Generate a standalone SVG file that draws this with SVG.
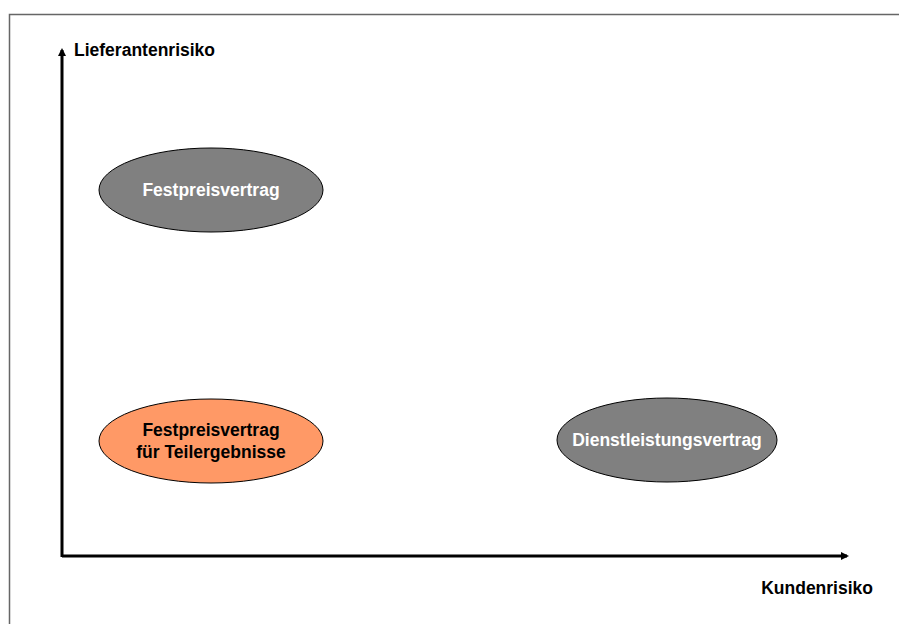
<svg xmlns="http://www.w3.org/2000/svg" width="899" height="624" viewBox="0 0 899 624">
<style>
text{font-family:"Liberation Sans",Arial,sans-serif;font-weight:bold;font-size:17.5px}
.n{stroke:#000;stroke-width:1}
.g{fill:#808080}
.o{fill:#FF9966}
.w{fill:#fff;text-anchor:middle}
.b{fill:#000;text-anchor:middle}
.ax{stroke:#000;stroke-width:3;fill:none}
</style>
<defs>
<marker id="ah" markerWidth="8" markerHeight="8" refX="6" refY="4" orient="auto" markerUnits="userSpaceOnUse">
<path d="M0,0 L8,4 L0,8 Z" fill="#000"/>
</marker>
</defs>
<rect x="0" y="0" width="899" height="624" fill="#fff"/>
<path d="M9.5,624 V14.5 H899" fill="none" stroke="#666" stroke-width="1.5"/>
<g id="connectors">
<path class="ax" d="M62,557 V50" marker-end="url(#ah)"/>
<path class="ax" d="M62,556 H847" marker-end="url(#ah)"/>
</g>
<g id="axis-y"><text x="74" y="56">Lieferantenrisiko</text></g>
<g id="axis-x"><text x="873" y="594" text-anchor="end">Kundenrisiko</text></g>
<g id="festpreisvertrag">
<ellipse class="n g" cx="211" cy="190" rx="112" ry="42"/>
<text class="w" x="211" y="196">Festpreisvertrag</text>
</g>
<g id="festpreisvertrag-teil">
<ellipse class="n o" cx="211" cy="441" rx="112" ry="42"/>
<text class="b" x="211" y="436">Festpreisvertrag</text>
<text class="b" x="211" y="458">für Teilergebnisse</text>
</g>
<g id="dienstleistungsvertrag">
<ellipse class="n g" cx="667" cy="440" rx="110" ry="42"/>
<text class="w" x="667" y="446">Dienstleistungsvertrag</text>
</g>
</svg>
